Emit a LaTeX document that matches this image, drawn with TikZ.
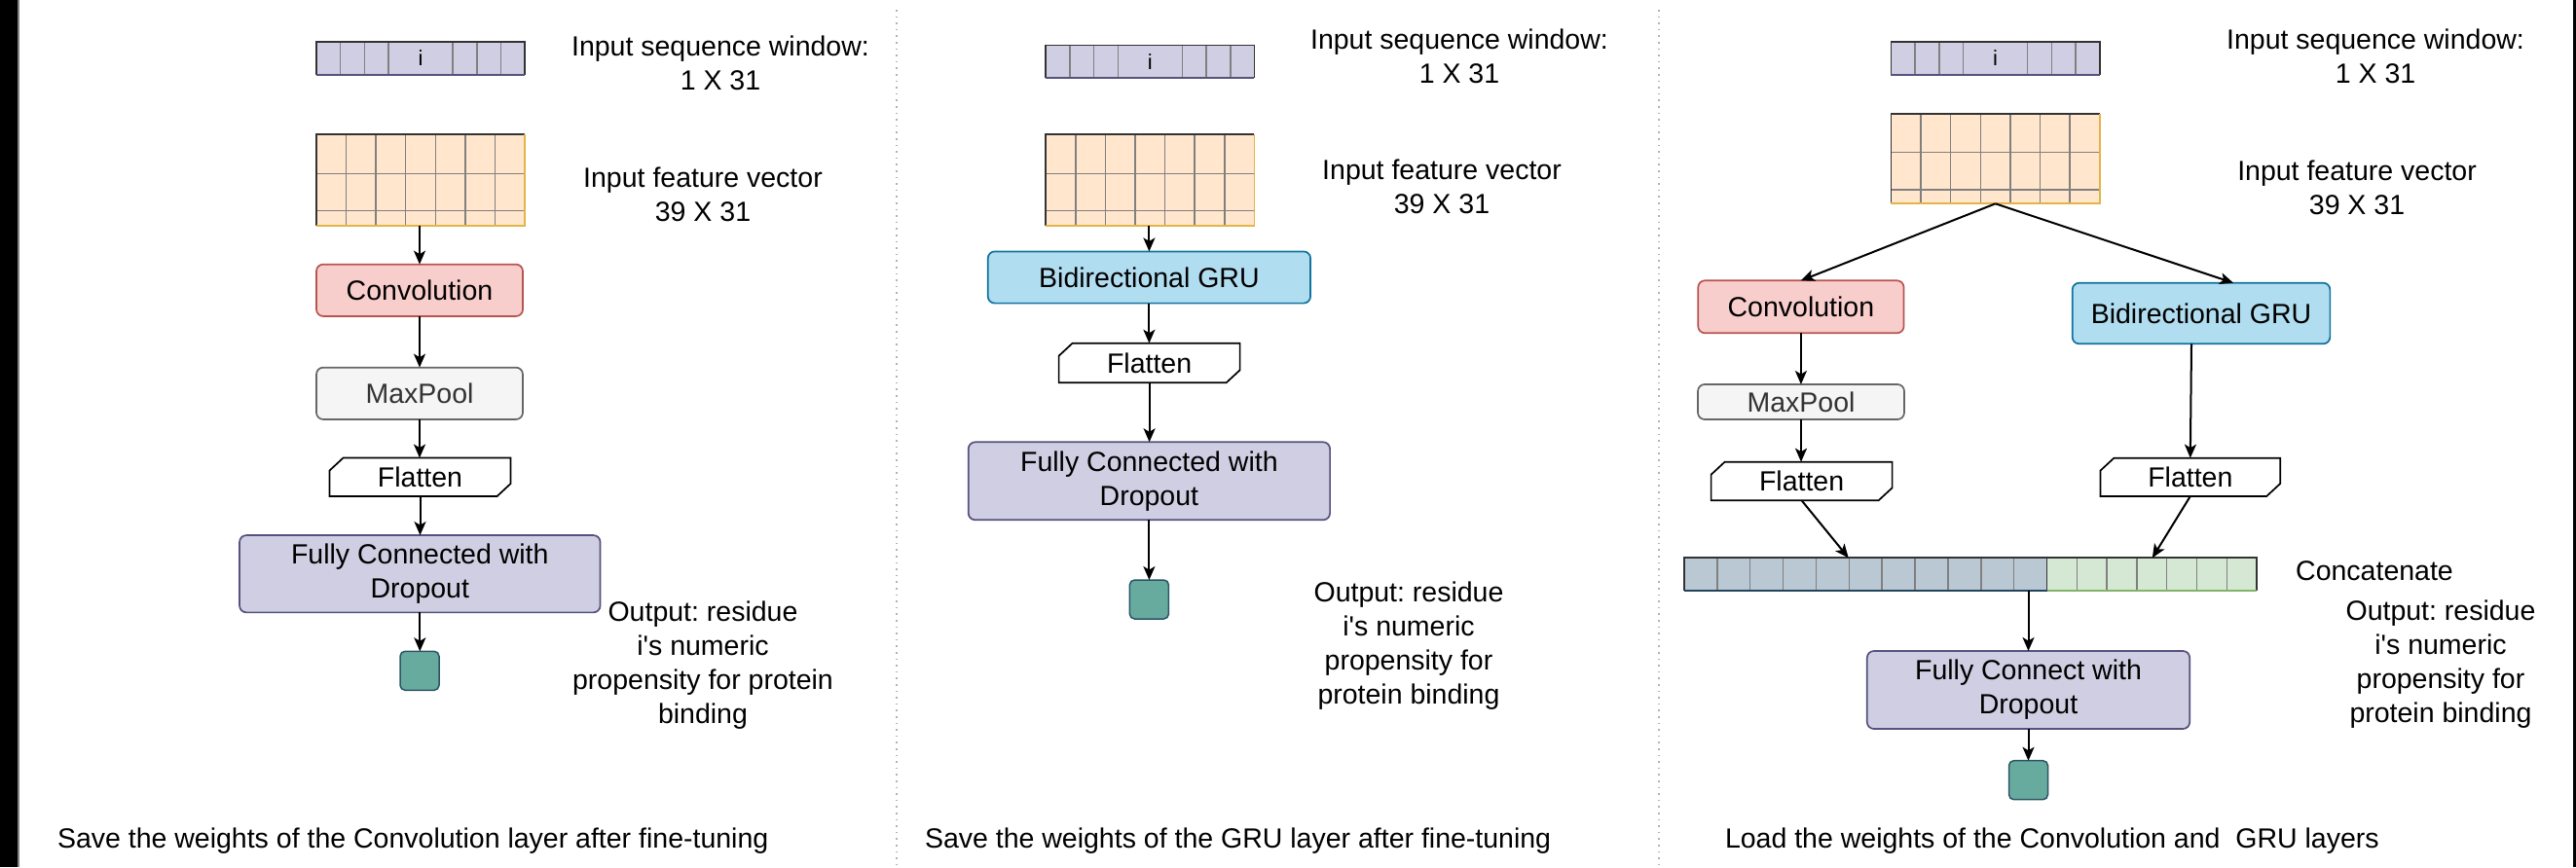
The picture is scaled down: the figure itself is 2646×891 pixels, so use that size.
\documentclass[tikz,border=0pt]{standalone}
\usepackage{fontspec}
\newfontfamily\mainf{Liberation Sans}
\usetikzlibrary{arrows.meta,calc}
\frenchspacing
\definecolor{pfill}{HTML}{D0CEE2}
\definecolor{pstroke}{HTML}{56517E}
\definecolor{rfill}{HTML}{F8CECC}
\definecolor{rstroke}{HTML}{B85450}
\definecolor{gfill}{HTML}{F5F5F5}
\definecolor{gstroke}{HTML}{666666}
\definecolor{gtext}{HTML}{333333}
\definecolor{bfill}{HTML}{B1DDF0}
\definecolor{bstroke}{HTML}{10739E}
\definecolor{ofill}{HTML}{FFE6CC}
\definecolor{ostroke}{HTML}{E3B448}
\definecolor{tfill}{HTML}{67AB9F}
\definecolor{tstroke}{HTML}{2B5566}
\definecolor{cbfill}{HTML}{BAC8D3}
\definecolor{cbstroke}{HTML}{23445D}
\definecolor{cgfill}{HTML}{D5E8D4}
\definecolor{cgstroke}{HTML}{82B366}
\definecolor{darkb}{HTML}{333333}
\definecolor{cellg}{HTML}{808080}
\newcommand\seqcells[1]{%
  \foreach \d in {24.7,49.4,74.1,140.2,164.9,189.6}
    \draw[cellline] ($(#1.north west)+(\d,0)$) -- ($(#1.south west)+(\d,0)$);
  \draw[darkline] (#1.south west) -- (#1.north west) -- (#1.north east) -- (#1.south east);
  \draw[line width=1.7pt, pstroke] (#1.south west) -- (#1.south east);
}
\newcommand\gridcells[1]{%
  \foreach \d in {30.6,61.2,91.8,122.4,153,183.6}
    \draw[cellline] ($(#1.north west)+(\d,0)$) -- ($(#1.south west)+(\d,0)$);
  \foreach \r in {40,78.4}
    \draw[cellline] ($(#1.north west)+(0,\r)$) -- ($(#1.north east)+(0,\r)$);
  \draw[darkline] (#1.south west) -- (#1.north west) -- (#1.north east);
  \draw[line width=1.7pt, ostroke] (#1.north east) -- (#1.south east) -- (#1.south west);
}
\newcommand\flatshape[1]{%
  \draw[flatline] ($(#1.north west)+(0,13)$) -- ($(#1.north west)+(14,0)$) -- (#1.north east)
    -- ($(#1.south east)+(0,-13)$) -- ($(#1.south east)+(-14,0)$) -- (#1.south west) -- cycle;
}
\begin{document}
\begin{tikzpicture}[x=1pt,y=-1pt,
 base/.style={font=\mainf\fontsize{28.5}{35}\selectfont, inner sep=0pt, outer sep=0pt},
 lbl/.style={base, align=center},
 box/.style={base, align=center, rectangle, rounded corners=7pt, line width=1.7pt},
 convbox/.style={box, fill=rfill, draw=rstroke},
 poolbox/.style={box, fill=gfill, draw=gstroke, text=gtext},
 grubox/.style={box, fill=bfill, draw=bstroke},
 fcbox/.style={box, fill=pfill, draw=pstroke},
 outbox/.style={base, rectangle, rounded corners=5pt, line width=1.5pt, fill=tfill, draw=tstroke, minimum width=40pt, minimum height=40pt},
 flatbox/.style={base, minimum width=186pt, minimum height=39.5pt},
 flatline/.style={line width=1.7pt, draw=black, line join=miter},
 seqnode/.style={base, font=\mainf\fontsize{22}{26}\selectfont, fill=pfill, minimum width=214.3pt, minimum height=33.4pt},
 gridnode/.style={base, fill=ofill, minimum width=214.3pt, minimum height=93.4pt},
 cellline/.style={line width=1.5pt, cellg},
 darkline/.style={line width=1.7pt, darkb},
 arr/.style={line width=2pt, -{Stealth[length=14pt,width=12pt,inset=3.5pt]}},
 divider/.style={line width=1.6pt, gray!60, dash pattern=on 1.6pt off 5pt},
]
\fill[white] (0,0) rectangle (2646,891);
\useasboundingbox (0,0) rectangle (2646,891);
% frame strips and dividers
\fill[black] (0,0) rectangle (18,891);
\draw[gray, line width=1.5pt] (19,0) -- (19,891);
\fill[black] (2643,0) rectangle (2646,891);
\draw[divider] (921,10) -- (921,891);
\draw[divider] (1704,10) -- (1704,891);

% ---------------- Panel 1 ----------------
\node[seqnode] (seq1) at (432,60) {i};
\seqcells{seq1}
\node[gridnode] (grid1) at (432,185) {};
\gridcells{grid1}
\node[lbl] (ts1) at (740,65) {Input sequence window:\\1 X 31};
\node[lbl] (tf1) at (722,200) {Input feature vector\\39 X 31};
\node[convbox, minimum width=212pt, minimum height=53.3pt] (conv1) at (431,298.3) {Convolution};
\node[poolbox, minimum width=212pt, minimum height=53.3pt] (mp1) at (431,404.3) {MaxPool};
\node[flatbox] (fl1) at (431.5,490.3) {Flatten};
\flatshape{fl1}
\node[fcbox, minimum width=370.5pt, minimum height=79.3pt] (fc1) at (431.3,589.7) {Fully Connected with\\Dropout};
\node[outbox] (out1) at (431,689.3) {};
\node[lbl] (to1) at (722,683.4) {Output: residue\\i's numeric\\propensity for protein\\binding};
\node[lbl, anchor=west] (cap1) at (59,864) {Save the weights of the Convolution layer after fine-tuning};
\draw[arr] (conv1.north |- grid1.south) -- (conv1.north);
\draw[arr] (conv1.south) -- (mp1.north);
\draw[arr] (mp1.south) -- (mp1.south |- fl1.north);
\draw[arr] (fl1.south) -- (fl1.south |- fc1.north);
\draw[arr] (fc1.south) -- (fc1.south |- out1.north);

% ---------------- Panel 2 ----------------
\node[seqnode] (seq2) at (1181.3,63.3) {i};
\seqcells{seq2}
\node[gridnode] (grid2) at (1181.3,185) {};
\gridcells{grid2}
\node[lbl] (ts2) at (1499,57.4) {Input sequence window:\\1 X 31};
\node[lbl] (tf2) at (1481,192) {Input feature vector\\39 X 31};
\node[grubox, minimum width=331.3pt, minimum height=53.2pt] (gru2) at (1180.4,285) {Bidirectional GRU};
\node[flatbox, minimum height=40.6pt] (fl2) at (1180.6,373) {Flatten};
\flatshape{fl2}
\node[fcbox, minimum width=371.4pt, minimum height=80pt] (fc2) at (1180.4,494.3) {Fully Connected with\\Dropout};
\node[outbox] (out2) at (1180.4,616) {};
\node[lbl] (to2) at (1447,663.4) {Output: residue\\i's numeric\\propensity for\\protein binding};
\node[lbl, anchor=west] (cap2) at (950,864) {Save the weights of the GRU layer after fine-tuning};
\draw[arr] (gru2.north |- grid2.south) -- (gru2.north);
\draw[arr] (gru2.south) -- (gru2.south |- fl2.north);
\draw[arr] (fl2.south) -- (fl2.south |- fc2.north);
\draw[arr] (fc2.south) -- (fc2.south |- out2.north);

% ---------------- Panel 3 ----------------
\node[seqnode] (seq3) at (2049.6,60) {i};
\seqcells{seq3}
\node[gridnode, minimum height=92.6pt] (grid3) at (2049.6,163) {};
\gridcells{grid3}
\node[lbl] (ts3) at (2440,58) {Input sequence window:\\1 X 31};
\node[lbl] (tf3) at (2421,192.7) {Input feature vector\\39 X 31};
\node[convbox, minimum width=211.3pt, minimum height=54pt] (conv3) at (1849.9,315.3) {Convolution};
\node[grubox, minimum width=264.7pt, minimum height=62.6pt] (gru3) at (2261,322) {Bidirectional GRU};
\node[poolbox, minimum width=212pt, minimum height=36pt] (mp3) at (1850,413) {MaxPool};
\node[flatbox, minimum height=39.6pt] (fl3a) at (1850.6,494.5) {Flatten};
\flatshape{fl3a}
\node[flatbox, minimum width=184.8pt, minimum height=39.3pt] (fl3b) at (2249.8,490.3) {Flatten};
\flatshape{fl3b}
% concatenate bar
\node[base, minimum width=588pt, minimum height=33.4pt] (cc) at (2024,590) {};
\fill[cbfill] (cc.north west) rectangle ($(cc.south west)+(372.5,0)$);
\fill[cgfill] ($(cc.north west)+(372.5,0)$) rectangle (cc.south east);
\foreach \k in {1,...,10}
  \draw[cellline] ($(cc.north west)+({33.86*\k},0)$) -- ($(cc.south west)+({33.86*\k},0)$);
\foreach \k in {1,...,6}
  \draw[cellline] ($(cc.north west)+({372.5+30.79*\k},0)$) -- ($(cc.south west)+({372.5+30.79*\k},0)$);
\draw[darkline] ($(cc.north west)+(372.5,0)$) -- ($(cc.south west)+(372.5,0)$);
\draw[darkline] (cc.south west) -- (cc.north west) -- (cc.north east) -- (cc.south east);
\draw[line width=1.7pt, cbstroke] (cc.south west) -- ($(cc.south west)+(372.5,0)$);
\draw[line width=1.7pt, cgstroke] ($(cc.south west)+(372.5,0)$) -- (cc.south east);
\node[lbl] (cct) at (2439,586.7) {Concatenate};
\node[fcbox, minimum width=331.4pt, minimum height=80pt] (fc3) at (2083.5,709) {Fully Connect with\\Dropout};
\node[outbox] (out3) at (2083.5,801.7) {};
\node[lbl] (to3) at (2507,683) {Output: residue\\i's numeric\\propensity for\\protein binding};
\node[lbl, anchor=west] (cap3) at (1772,864) {Load the weights of the Convolution and\ \ GRU layers};
\draw[arr] (grid3.south) -- (conv3.north);
\draw[arr] (grid3.south) -- ($(gru3.north)+(33,0)$);
\draw[arr] (conv3.south) -- (conv3.south |- mp3.north);
\draw[arr] ($(gru3.south)+(-10,0)$) -- (fl3b.north);
\draw[arr] (mp3.south) -- (mp3.south |- fl3a.north);
\draw[arr] (fl3a.south) -- ($(cc.north west)+(168.7,0)$);
\draw[arr] (fl3b.south) -- ($(cc.north west)+(480.8,0)$);
\draw[arr] (fc3.north |- cc.south) -- (fc3.north);
\draw[arr] (fc3.south) -- (fc3.south |- out3.north);
\end{tikzpicture}
\end{document}
